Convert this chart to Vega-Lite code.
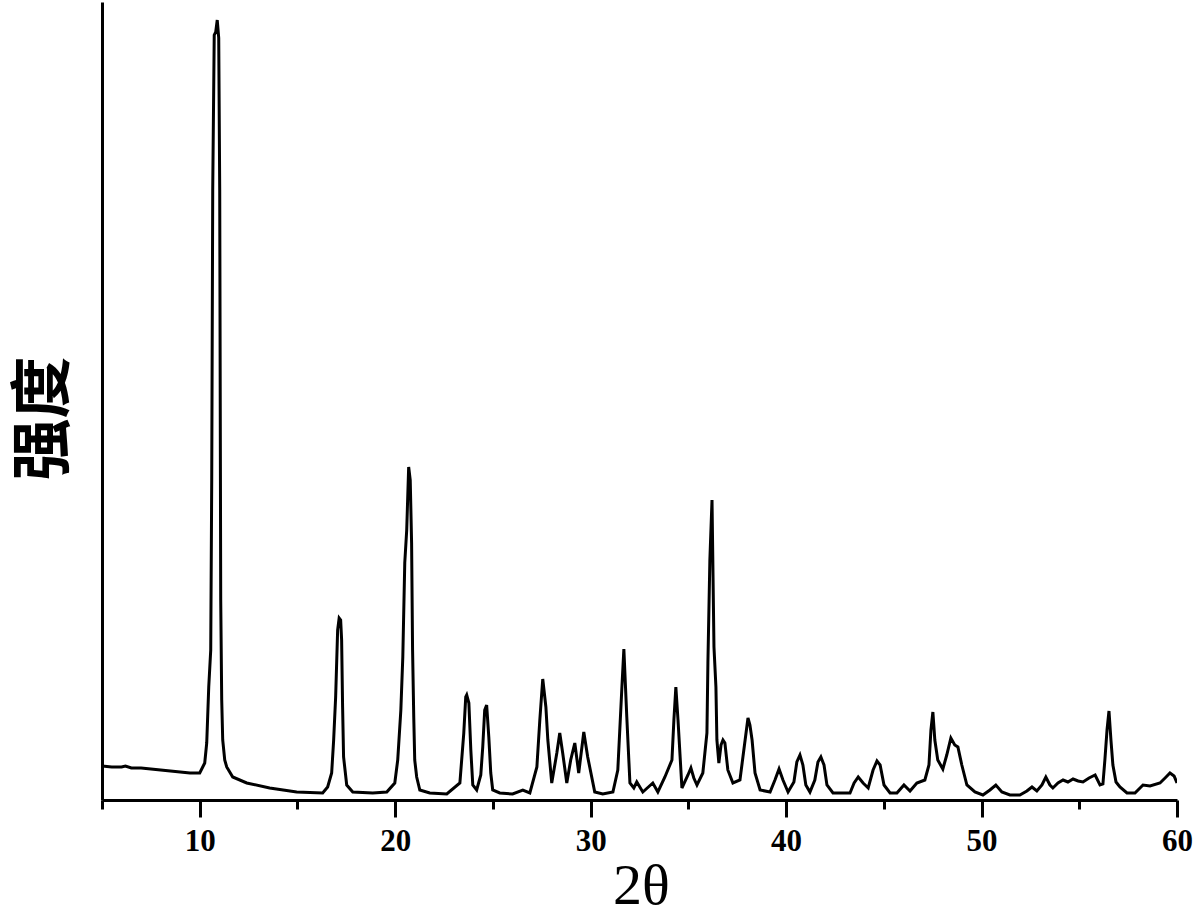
{
  "$schema": "https://vega.github.io/schema/vega-lite/v6.json",
  "width": 1075,
  "height": 798,
  "autosize": {"type": "none"},
  "padding": {"left": 102, "top": 2, "right": 23, "bottom": 119},
  "background": "white",
  "config": {"view": {"stroke": null}},
  "data": {"values": [
    {"t":5.0,"i":34},{"t":5.5,"i":33},{"t":6.0,"i":33},{"t":6.2,"i":34},{"t":6.5,"i":32},{"t":7.0,"i":32},{"t":7.5,"i":31},{"t":8.0,"i":30},{"t":8.5,"i":29},{"t":9.0,"i":28},{"t":9.5,"i":27},{"t":10.0,"i":27},
    {"t":10.256,"i":37},{"t":10.358,"i":57},{"t":10.461,"i":113},{"t":10.563,"i":150},{"t":10.614,"i":320},{"t":10.665,"i":610},{"t":10.742,"i":765},{"t":10.819,"i":768},{"t":10.896,"i":780},{"t":10.972,"i":762},{"t":11.023,"i":610},{"t":11.074,"i":200},{"t":11.125,"i":100},{"t":11.176,"i":60},{"t":11.279,"i":40},{"t":11.381,"i":33},{"t":11.688,"i":23},{"t":12.404,"i":17},{"t":13.578,"i":12},{"t":14.96,"i":8},{"t":16.29,"i":7},
    {"t":16.545,"i":13},{"t":16.75,"i":27},{"t":16.852,"i":60},{"t":16.954,"i":103},{"t":17.056,"i":170},{"t":17.133,"i":182},{"t":17.21,"i":180},{"t":17.26,"i":160},{"t":17.31,"i":93},{"t":17.36,"i":43},{"t":17.52,"i":15},{"t":17.83,"i":8},{"t":18.85,"i":7},{"t":19.57,"i":8},
    {"t":19.98,"i":17},{"t":20.13,"i":40},{"t":20.29,"i":90},{"t":20.39,"i":143},{"t":20.49,"i":237},{"t":20.59,"i":270},{"t":20.69,"i":333},{"t":20.77,"i":320},{"t":20.84,"i":257},{"t":20.89,"i":150},{"t":20.95,"i":83},{"t":21.0,"i":40},{"t":21.1,"i":23},{"t":21.26,"i":10},{"t":21.77,"i":7},{"t":22.64,"i":6},
    {"t":23.31,"i":17},{"t":23.51,"i":67},{"t":23.61,"i":103},{"t":23.66,"i":105},{"t":23.77,"i":97},{"t":23.87,"i":50},{"t":23.97,"i":15},{"t":24.17,"i":10},{"t":24.38,"i":25},{"t":24.48,"i":53},{"t":24.58,"i":90},{"t":24.68,"i":95},{"t":24.79,"i":63},{"t":24.89,"i":27},{"t":24.99,"i":10},{"t":25.35,"i":7},{"t":26.01,"i":6},{"t":26.53,"i":10},{"t":26.89,"i":7},
    {"t":27.25,"i":33},{"t":27.4,"i":80},{"t":27.55,"i":121},{"t":27.71,"i":93},{"t":27.81,"i":60},{"t":28.01,"i":17},{"t":28.27,"i":47},{"t":28.42,"i":67},{"t":28.57,"i":47},{"t":28.78,"i":17},{"t":28.98,"i":40},{"t":29.19,"i":57},{"t":29.39,"i":27},{"t":29.65,"i":68},{"t":29.85,"i":43},{"t":30.21,"i":8},{"t":30.62,"i":6},{"t":31.14,"i":8},
    {"t":31.39,"i":30},{"t":31.6,"i":113},{"t":31.7,"i":151},{"t":31.85,"i":83},{"t":32.01,"i":17},{"t":32.21,"i":12},{"t":32.36,"i":18},{"t":32.67,"i":8},{"t":33.18,"i":17},{"t":33.44,"i":8},{"t":33.8,"i":23},{"t":34.16,"i":40},{"t":34.26,"i":80},{"t":34.36,"i":113},{"t":34.47,"i":80},{"t":34.67,"i":12},{"t":34.98,"i":25},{"t":35.13,"i":32},{"t":35.28,"i":22},{"t":35.44,"i":15},{"t":35.74,"i":27},
    {"t":35.95,"i":67},{"t":36.0,"i":137},{"t":36.1,"i":240},{"t":36.21,"i":300},{"t":36.31,"i":153},{"t":36.41,"i":113},{"t":36.46,"i":60},{"t":36.56,"i":37},{"t":36.67,"i":55},{"t":36.77,"i":60},{"t":36.87,"i":57},{"t":37.02,"i":30},{"t":37.28,"i":17},{"t":37.64,"i":20},{"t":37.95,"i":67},{"t":38.05,"i":82},{"t":38.15,"i":75},{"t":38.26,"i":60},{"t":38.41,"i":27},{"t":38.67,"i":10},
    {"t":39.18,"i":8},{"t":39.43,"i":20},{"t":39.64,"i":31},{"t":39.84,"i":20},{"t":40.1,"i":8},{"t":40.4,"i":18},{"t":40.55,"i":38},{"t":40.71,"i":45},{"t":40.86,"i":35},{"t":41.01,"i":15},{"t":41.22,"i":8},{"t":41.47,"i":20},{"t":41.63,"i":38},{"t":41.78,"i":43},{"t":41.94,"i":35},{"t":42.09,"i":15},{"t":42.4,"i":7},{"t":43.27,"i":7},
    {"t":43.48,"i":17},{"t":43.69,"i":23},{"t":43.94,"i":17},{"t":44.2,"i":12},{"t":44.45,"i":30},{"t":44.65,"i":39},{"t":44.81,"i":35},{"t":45.01,"i":15},{"t":45.32,"i":7},{"t":45.67,"i":7},{"t":46.03,"i":15},{"t":46.34,"i":9},{"t":46.69,"i":17},{"t":47.1,"i":20},{"t":47.31,"i":35},{"t":47.41,"i":70},{"t":47.51,"i":88},{"t":47.61,"i":60},{"t":47.76,"i":40},{"t":48.02,"i":31},{"t":48.22,"i":45},{"t":48.43,"i":62},{"t":48.63,"i":55},{"t":48.79,"i":53},{"t":48.99,"i":35},{"t":49.25,"i":15},{"t":49.66,"i":8},
    {"t":50.07,"i":5},{"t":50.43,"i":10},{"t":50.73,"i":15},{"t":51.04,"i":8},{"t":51.45,"i":5},{"t":51.96,"i":5},{"t":52.32,"i":9},{"t":52.58,"i":13},{"t":52.83,"i":9},{"t":53.09,"i":15},{"t":53.29,"i":23},{"t":53.5,"i":15},{"t":53.65,"i":12},{"t":53.91,"i":17},{"t":54.17,"i":20},{"t":54.42,"i":18},{"t":54.68,"i":21},{"t":54.94,"i":19},{"t":55.19,"i":18},{"t":55.5,"i":22},{"t":55.81,"i":25},{"t":56.06,"i":15},{"t":56.21,"i":16},
    {"t":56.31,"i":40},{"t":56.42,"i":70},{"t":56.52,"i":89},{"t":56.62,"i":60},{"t":56.72,"i":35},{"t":56.88,"i":18},{"t":57.08,"i":13},{"t":57.44,"i":7},{"t":57.85,"i":7},{"t":58.26,"i":15},{"t":58.62,"i":14},{"t":59.13,"i":17},{"t":59.39,"i":22},{"t":59.64,"i":27},{"t":59.85,"i":24},{"t":60.0,"i":17}
  ]},
  "layer": [
    {
      "mark": {"type": "line", "color": "black", "strokeWidth": 3, "strokeJoin": "miter", "clip": true},
      "encoding": {
        "x": {
          "field": "t", "type": "quantitative",
          "scale": {"domain": [5, 60], "nice": false},
          "axis": {
            "orient": "bottom",
            "values": [10, 20, 30, 40, 50, 60],
            "tickSize": 17,
            "tickWidth": 3,
            "tickColor": "black",
            "domainColor": "black",
            "domainWidth": 3,
            "grid": false,
            "labelFont": "Liberation Serif",
            "labelFontSize": 31,
            "labelFontWeight": "bold",
            "labelColor": "black",
            "labelPadding": 9,
            "labelFlush": false,
            "labelOverlap": false,
            "title": "2θ",
            "titleFont": "Liberation Serif",
            "titleFontSize": 58,
            "titleFontWeight": "normal",
            "titleColor": "black",
            "titleBaseline": "alphabetic",
            "titleAlign": "center",
            "titleX": 539,
            "titleY": 103
          }
        },
        "y": {
          "field": "i", "type": "quantitative",
          "scale": {"domain": [0, 798], "nice": false},
          "axis": {
            "ticks": false,
            "labels": false,
            "grid": false,
            "domainColor": "black",
            "domainWidth": 3,
            "title": "强度",
            "titleFont": "Noto Sans CJK SC",
            "titleFontSize": 62,
            "titleFontWeight": "bold",
            "titleColor": "black",
            "titleAngle": -90,
            "titleAlign": "center",
            "titleBaseline": "middle",
            "titleX": -58,
            "titleY": 416
          }
        }
      }
    },
    {
      "mark": {"type": "line", "color": "black", "strokeWidth": 3, "opacity": 0},
      "encoding": {
        "x": {
          "field": "t", "type": "quantitative",
          "scale": {"domain": [5, 60], "nice": false},
          "axis": {
            "orient": "bottom",
            "values": [5, 15, 25, 35, 45, 55],
            "tickSize": 9,
            "tickWidth": 3,
            "tickColor": "black",
            "domain": false,
            "grid": false,
            "labels": false,
            "title": null,
            "offset": 0
          }
        },
        "y": {
          "field": "i", "type": "quantitative",
          "scale": {"domain": [0, 798], "nice": false},
          "axis": {
            "ticks": false,
            "labels": false,
            "grid": false,
            "domainColor": "black",
            "domainWidth": 3,
            "title": "强度",
            "titleFont": "Noto Sans CJK SC",
            "titleFontSize": 62,
            "titleFontWeight": "bold",
            "titleColor": "black",
            "titleAngle": -90,
            "titleAlign": "center",
            "titleBaseline": "middle",
            "titleX": -58,
            "titleY": 416
          }
        }
      }
    }
  ],
  "resolve": {"axis": {"x": "independent"}}
}
